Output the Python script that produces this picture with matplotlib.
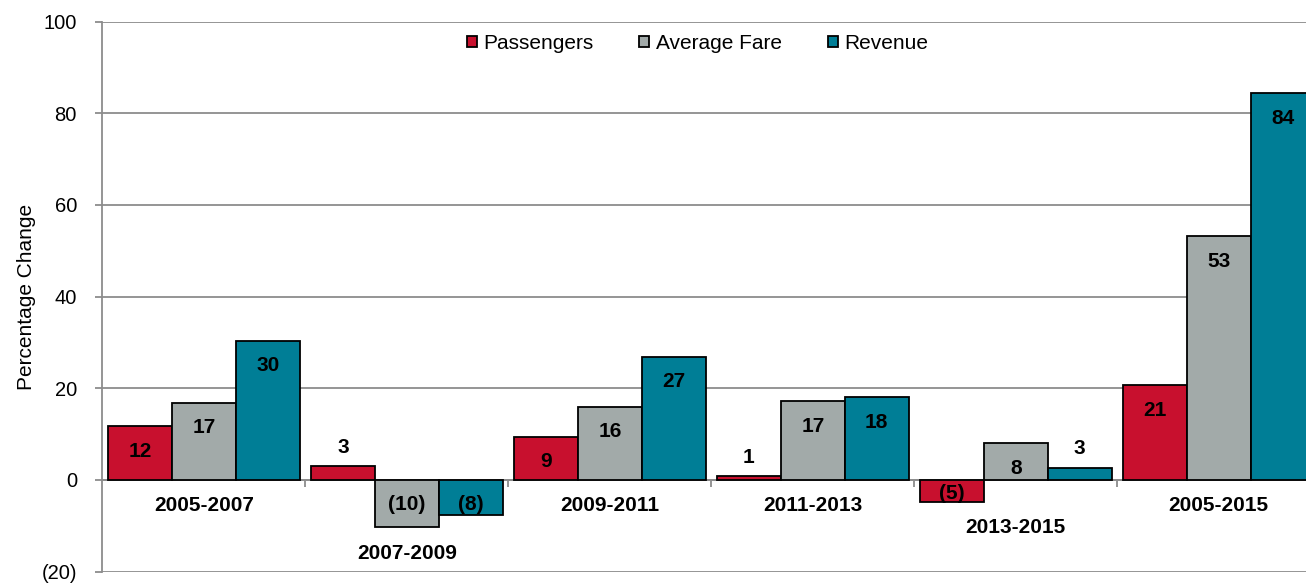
import numpy as np
import matplotlib.pyplot as plt
from matplotlib.ticker import FuncFormatter, FixedLocator

plt.rcParams['font.family'] = ['Liberation Sans', 'DejaVu Sans']

# Variação percentual por período
periodos = ['2005-2007', '2007-2009', '2009-2011', '2011-2013', '2013-2015', '2005-2015']
passageiros = [11.7, 3.0, 9.4, 0.8, -4.8, 20.6]
tarifa_media = [16.8, -10.3, 16.0, 17.2, 8.0, 53.2]
receita = [30.4, -7.6, 26.9, 18.0, 2.6, 84.4]

series = [('Passengers', passageiros, '#C8102E'),
          ('Average Fare', tarifa_media, '#A2AAA9'),
          ('Revenue', receita, '#007E96')]

cinza = '#8C8C8C'


def rotulo(v):
    v = int(round(v))
    return '({})'.format(-v) if v < 0 else str(v)


fig = plt.figure(figsize=(13.06, 5.83), dpi=100)
ax = fig.add_axes([0.0781, 0.0197, 0.9219, 0.9431])
ax.set_ylim(-20, 100)
ax.set_xlim(-0.502, 5.43)

# pixels por unidade no eixo y
px = ax.bbox.height / 120.0

x = np.arange(len(periodos))
largura = 0.315

for i, (nome, valores, cor) in enumerate(series):
    pos = x + (i - 1) * largura
    ax.bar(pos, valores, largura, color=cor, edgecolor='black', linewidth=1.3,
           label=nome, zorder=3)
    for xp, v in zip(pos, valores):
        if v < 0:
            if v * px < -33:
                base, dy = 0, -25
            else:
                base, dy = v, 8
        elif v >= 5:
            base, dy = v, -25
        else:
            base, dy = v, 19
        ax.annotate(rotulo(v), (xp, base), xytext=(0, dy), textcoords='offset pixels',
                    ha='center', va='center', fontsize=15, fontweight='bold', zorder=4)

# rótulos das categorias abaixo da barra mais baixa de cada grupo
for xi, nome, vals in zip(x, periodos, zip(passageiros, tarifa_media, receita)):
    base = min(0, min(vals))
    ax.annotate(nome, (xi, base), xytext=(0, -26), textcoords='offset pixels',
                ha='center', va='center', fontsize=15, fontweight='bold')

ax.set_yticks(np.arange(-20, 101, 20))
ax.yaxis.set_major_formatter(FuncFormatter(lambda v, p: rotulo(v)))
ax.tick_params(axis='y', labelsize=14.5, color=cinza, length=5, width=1.3, pad=13)
ax.yaxis.grid(True, color=cinza, linewidth=1.3, zorder=0)
ax.set_axisbelow(True)

# eixo x sobre o zero, com marcas entre as categorias
ax.spines['bottom'].set_position(('data', 0))
ax.spines['bottom'].set_color(cinza)
ax.spines['bottom'].set_linewidth(1.3)
ax.xaxis.set_major_locator(FixedLocator(x[:-1] + 0.5))
ax.tick_params(axis='x', labelbottom=False, color=cinza, length=5, width=1.3)
ax.spines['left'].set_color(cinza)
ax.spines['left'].set_linewidth(1.3)
ax.spines['top'].set_visible(False)
ax.spines['right'].set_visible(False)

ax.set_ylabel('Percentage Change', fontsize=15)
ax.yaxis.set_label_coords(-0.055, 0.5)

ax.legend(loc='upper center', bbox_to_anchor=(0.4946, 1.012), ncol=3, frameon=False,
          fontsize=15, handlelength=0.48, handleheight=0.48, handletextpad=0.3,
          columnspacing=2.2)

fig.savefig('out.png', dpi=100)
